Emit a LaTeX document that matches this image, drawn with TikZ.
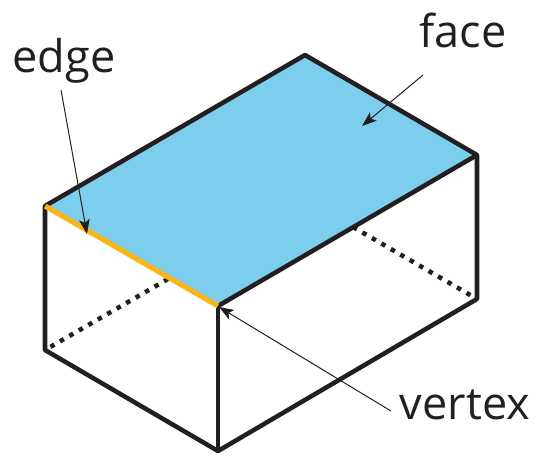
\documentclass[tikz,border=0pt]{standalone}
\usepackage{xcolor}
\usepackage{fontspec}
\setmainfont{Open Sans}
\usepackage{tikz}
\usetikzlibrary{arrows.meta}
\definecolor{faceblue}{HTML}{7DCDEC}
\definecolor{edgeorange}{HTML}{FDB515}
\definecolor{inkblack}{HTML}{231F20}
\tikzset{
    vertex/.style={circle, inner sep=0pt, minimum size=0pt},
    vlabel/.style={font=\fontsize{33.8}{34}\selectfont, color=inkblack, inner sep=0pt},
    solidedge/.style={line width=3.4pt, inkblack, line cap=round, line join=round},
    hiddenedge/.style={line width=3.4pt, inkblack, dash pattern=on 3.4pt off 4.8pt},
    arrow/.style={-{Stealth[length=11pt, width=8pt, inset=2.5pt]}, line width=0.75pt, inkblack}
}

\begin{document}
\begin{tikzpicture}[x=0.75pt, y=-0.75pt]
        \useasboundingbox (0,0) rectangle (536,457);

        % Corners of the box
        \node[vertex] (TL) at (45,206) {};
        \node[vertex] (TB) at (305,55) {};
        \node[vertex] (TR) at (477,155) {};
        \node[vertex] (TF) at (218,306) {};
        \node[vertex] (BL) at (45,350) {};
        \node[vertex] (BF) at (218,451) {};
        \node[vertex] (BR) at (477,299) {};

        % Where the hidden edges stop behind the top face
        \coordinate (HL) at (168,279);
        \coordinate (HR) at (353,227);

        % Top face
        \fill[faceblue] (TL.center) -- (TB.center) -- (TR.center) -- (TF.center) -- cycle;

        % Hidden edges
        \draw[hiddenedge] (HL) -- (BL);
        \draw[hiddenedge] (HR) -- (BR);

        % Visible edges
        \draw[solidedge] (TL) -- (TB) -- (TR) -- (TF);
        \draw[solidedge] (TR) -- (BR) -- (BF) -- (BL) -- (TL);
        \draw[solidedge] (TF) -- (BF);
        \draw[line width=3.8pt, edgeorange] (TL) -- (TF);

        % Labels
        \node[vlabel] (edge) at (64,61) {edge};
        \node[vlabel] (face) at (463,30) {face};
        \node[vlabel] (vtx) at (465,405) {vertex};

        \coordinate (edgeTail) at (61,90);
        \coordinate (edgeTip) at (87,234);
        \coordinate (faceTail) at (423,75);
        \coordinate (faceTip) at (362,126);
        \coordinate (vtxTail) at (391,411);
        \coordinate (vtxTip) at (219,307);

        \draw[arrow] (edgeTail) -- (edgeTip);
        \draw[arrow] (faceTail) -- (faceTip);
        \draw[arrow] (vtxTail) -- (vtxTip);
    \end{tikzpicture}
\end{document}
